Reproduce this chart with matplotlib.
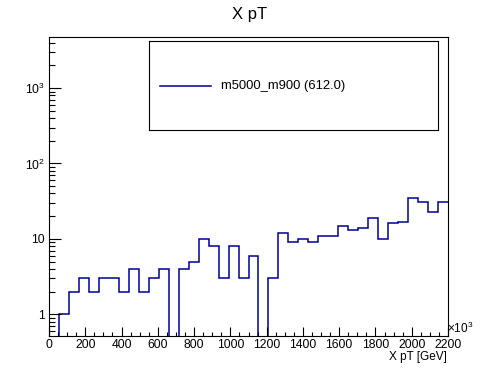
import numpy as np
import matplotlib
matplotlib.use("Agg")
import matplotlib.pyplot as plt
from matplotlib.ticker import FixedLocator, NullFormatter, LogLocator

plt.rcParams['font.family'] = ['Liberation Sans', 'DejaVu Sans']
plt.rcParams['mathtext.fontset'] = 'custom'
plt.rcParams['mathtext.rm'] = 'Liberation Sans'
plt.rcParams['mathtext.it'] = 'Liberation Sans'

# data
bin_edges = np.linspace(0, 2200, 41)
counts = [0, 1, 2, 3, 2, 3, 3, 2, 4, 2, 3, 4,
          0, 4, 5, 10, 8, 3, 8, 3, 6,
          0, 3, 12, 9, 10, 9, 11, 11, 15, 13, 14, 19, 10, 16, 17, 35, 31, 23, 31]
xticks = [0, 200, 400, 600, 800, 1000, 1200, 1400, 1600, 1800, 2000, 2200]
xtick_labels = [str(v) for v in xticks]
yticks = [1, 10, 100, 1000]
ytick_labels = ['1', '10', r'$10^{2}$', r'$10^{3}$']
title = "X pT"
xlabel = "X pT [GeV]"
legend_label = "m5000_m900 (612.0)"

W, H = 498, 374
fig = plt.figure(figsize=(W / 100, H / 100), dpi=100)
L, R, T, B = 49, 448, 37, 336
ax = fig.add_axes([L / W, 1 - B / H, (R - L) / W, (B - T) / H])

vals = np.array(counts, dtype=float)
vals[vals <= 0] = 1e-6
color = '#000099'
ax.stairs(vals, bin_edges, color=color, linewidth=1.1, baseline=None)

ax.set_yscale('log')
ax.set_xlim(0, 2200)
ax.set_ylim(0.515, 4760)

ax.xaxis.set_major_locator(FixedLocator(xticks))
ax.set_xticklabels(xtick_labels)
ax.xaxis.set_minor_locator(FixedLocator(np.arange(0, 2201, 50)))
ax.yaxis.set_major_locator(FixedLocator(yticks))
ax.set_yticklabels(ytick_labels)
ax.yaxis.set_minor_locator(LogLocator(base=10, subs=np.arange(2, 10), numticks=20))
ax.yaxis.set_minor_formatter(NullFormatter())

ax.tick_params(axis='both', which='both', direction='in', top=False, right=False,
               labelsize=8.7, width=0.8, colors='black')
ax.tick_params(axis='x', which='major', length=6.5, pad=2)
ax.tick_params(axis='x', which='minor', length=3.2)
ax.tick_params(axis='y', which='major', length=8.6, pad=3)
ax.tick_params(axis='y', which='minor', length=4.3)
for s in ax.spines.values():
    s.set_linewidth(0.8)

fig.text(250 / W, 1 - 15 / H, title, ha='center', va='center', fontsize=12)
fig.text(447 / W, 1 - 357 / H, xlabel, ha='right', va='center', fontsize=8.5)
fig.text(447 / W, 1 - 328 / H, r'$\times10^{3}$', ha='left', va='center', fontsize=8.5)

# legend box
lx0, lx1, ly0, ly1 = 149, 438, 41, 130
lax = fig.add_axes([lx0 / W, 1 - ly1 / H, (lx1 - lx0) / W, (ly1 - ly0) / H])
lax.set_xlim(lx0, lx1)
lax.set_ylim(ly1, ly0)
lax.set_xticks([])
lax.set_yticks([])
for s in lax.spines.values():
    s.set_linewidth(0.8)
lax.plot([160, 211], [86, 86], color=color, linewidth=1.1)
lax.text(221, 86, legend_label, ha='left', va='center', fontsize=9.4)

fig.savefig('out.png', dpi=100)
